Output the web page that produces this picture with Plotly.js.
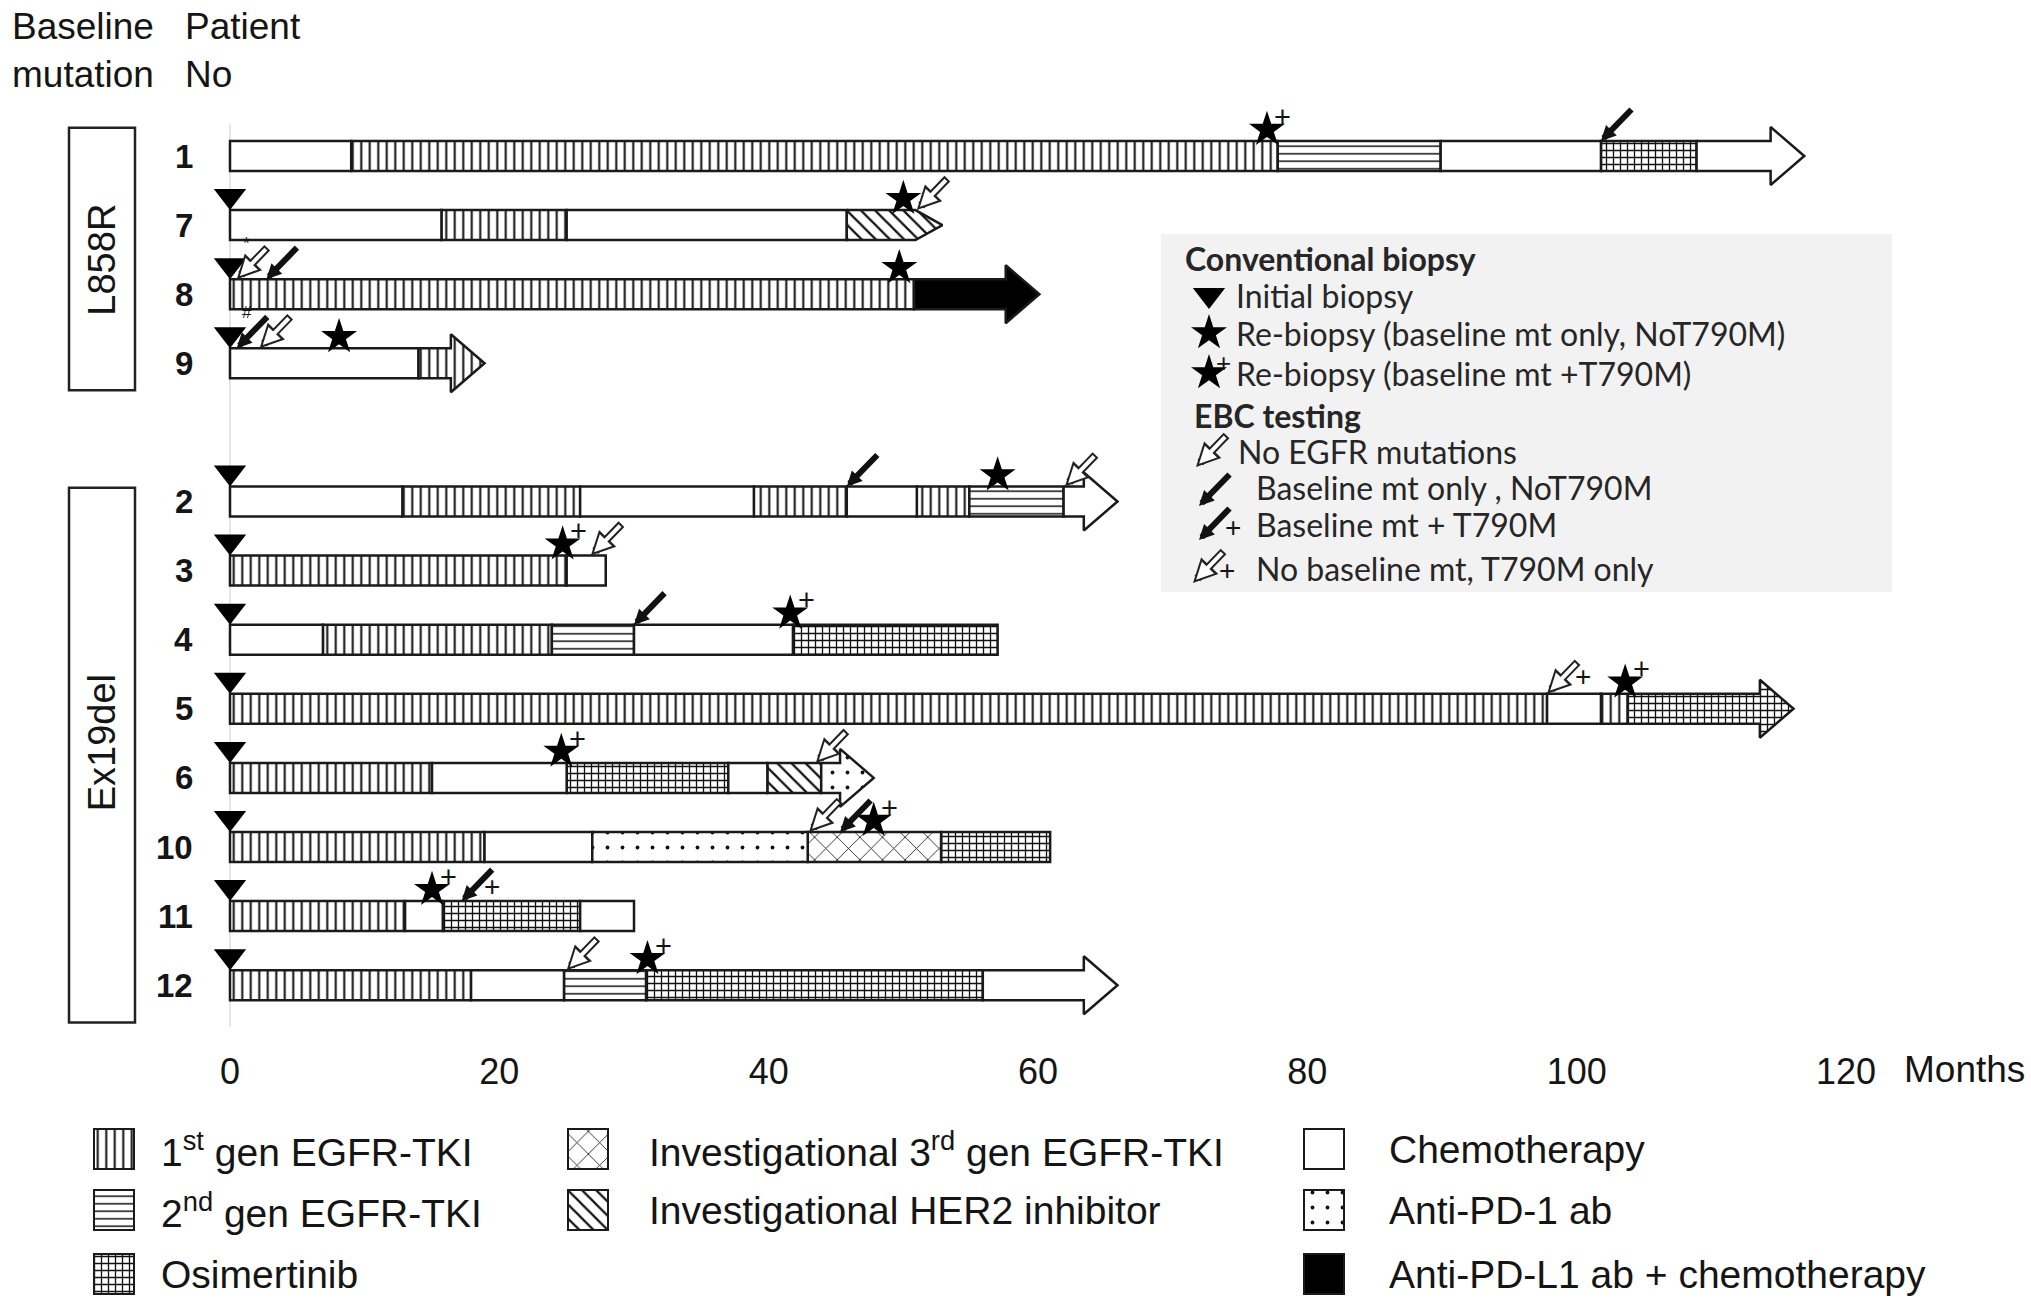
<!DOCTYPE html>
<html><head><meta charset="utf-8">
<script src="https://cdn.plot.ly/plotly-3.0.1.min.js"></script>
<style>html,body{margin:0;padding:0;background:#fff}#chart{width:2031px;height:1303px}</style>
</head><body><div id="chart"></div>
<script>
// ================= DATA =================
const patients = ['1','7','8','9','2','3','4','5','6','10','11','12'];
const baselineMutation = ['L858R','L858R','L858R','L858R','Ex19del','Ex19del','Ex19del','Ex19del','Ex19del','Ex19del','Ex19del','Ex19del'];
// treatment lines per patient (in order) and the month each line ends
const regimens = [
  ['chemo','tki1','tki2','chemo','osi','chemo'],
  ['chemo','tki1','chemo','her2'],
  ['tki1','pdl1'],
  ['chemo','tki1'],
  ['chemo','tki1','chemo','tki1','chemo','tki1','tki2','chemo'],
  ['tki1','chemo'],
  ['chemo','tki1','tki2','chemo','osi'],
  ['tki1','chemo','tki1','osi'],
  ['tki1','chemo','osi','chemo','her2','pd1'],
  ['tki1','chemo','pd1','tki3','osi'],
  ['tki1','chemo','osi','chemo'],
  ['tki1','chemo','tki2','osi','chemo']
];
const regimenEnds = [
  [9, 77.8, 89.9, 101.8, 108.9, 116.9],
  [15.7, 25, 45.8, 52.9],
  [50.8, 60.1],
  [14, 18.9],
  [12.8, 26, 38.9, 45.8, 51, 54.9, 61.9, 65.9],
  [25, 27.9],
  [6.9, 23.9, 30, 41.8, 57],
  [97.8, 101.8, 103.8, 116.1],
  [15, 25, 37, 39.9, 43.9, 47.8],
  [18.9, 26.9, 42.9, 52.8, 60.9],
  [13, 15.8, 26, 30],
  [17.9, 24.8, 30.9, 55.9, 65.9]
];
// how the last line ends: 'arrow' = ongoing, 'point' = pointed end, 'none' = stopped
const lineEnding = ['arrow','point','arrow','arrow','arrow','none','none','arrow','arrow','none','none','arrow'];

// conventional biopsy events (months)
const initialBiopsy = [false,true,true,true,true,true,true,true,true,true,true,true];
const rebiopsyNoT790M = [[],[50],[49.7],[8.1],[57],[],[],[],[],[],[],[]];
const rebiopsyT790M   = [[77],[],[],[],[],[24.7],[41.6],[103.6],[24.6],[47.8],[15],[31]];
// EBC testing events (months)
const ebcNoMutation     = [[],[51],[0.5],[2.2],[62],[26.8],[],[],[43.5],[43],[],[25]];
const ebcBaselineOnly   = [[101.8],[],[2.7],[0.5],[45.8],[],[30],[],[],[45.3],[],[]];
const ebcBaselineT790M  = [[],[],[],[],[],[],[],[],[],[],[17.2],[]];
const ebcT790MOnly      = [[],[],[],[],[],[],[],[97.8],[],[],[],[]];
const ebcFootnotePatient = ['8','9'];
const ebcFootnoteMonth   = [0.5, 0.5];
const ebcFootnoteMark    = ['*','#'];

const monthTicks = [0,20,40,60,80,100,120];
const axisTitle = 'Months';

const treatmentKeys  = ['tki1','tki2','osi','tki3','her2','chemo','pd1','pdl1'];
const treatmentNames = ['1<sup>st</sup> gen EGFR-TKI','2<sup>nd</sup> gen EGFR-TKI','Osimertinib',
  'Investigational 3<sup>rd</sup> gen EGFR-TKI','Investigational HER2 inhibitor',
  'Chemotherapy','Anti-PD-1 ab','Anti-PD-L1 ab + chemotherapy'];

const biopsyLegendTitle = 'Conventional biopsy';
const biopsyLegendLabels = ['Initial biopsy','Re-biopsy (baseline mt only, NoT790M)','Re-biopsy (baseline mt +T790M)'];
const ebcLegendTitle = 'EBC testing';
const ebcLegendLabels = ['No EGFR mutations','Baseline mt only , NoT790M','Baseline mt + T790M','No baseline mt, T790M only'];

// ================= STYLE =================
const W = 2031, H = 1303;
const FONT = '"Liberation Sans", Arial, sans-serif';
const BOX_FONT = 'Lato, "Open Sans", sans-serif';
const INK = '#151515';
const X0_PX = 230, PX_PER_MONTH = 13.467;
const ROW0_PX = 156, ROW_PX = 69.1;
const pxY = p => p / ROW_PX;        // pixel -> row units
const BAR_H = pxY(30);
const HEAD_HALF = pxY(29);
const HEAD_LEN = 2.5, POINT_LEN = 2.0;
const OUTLINE = {color: '#1a1a1a', width: 2.5};
const STAR_SIZE = 27, TRI_SIZE = 28;

const STYLE = {
  tki1:  {color:'#ffffff', pattern:{shape:'|',  size:8.5, solidity:0.24}},
  tki2:  {color:'#ffffff', pattern:{shape:'-',  size:7.5, solidity:0.2}},
  osi:   {color:'#ffffff', pattern:{shape:'+',  size:7,   solidity:0.34}},
  tki3:  {color:'#ffffff', pattern:{shape:'x',  size:16,  solidity:0.1}},
  her2:  {color:'#ffffff', pattern:{shape:'\\', size:10,  solidity:0.22}},
  chemo: {color:'#ffffff', pattern:null},
  pd1:   {color:'#ffffff', pattern:{shape:'.',  size:15,  solidity:0.05}},
  pdl1:  {color:'#000000', pattern:null}
};
function patternFor(k){
  const s = STYLE[k];
  if(!s.pattern) return {shape:''};
  return Object.assign({fgcolor:'#111111', bgcolor:'#ffffff', fillmode:'replace'}, s.pattern);
}

// row positions (a blank row between mutation groups)
const rowPos = [];
{ let gap = 0;
  patients.forEach((p,i)=>{ if(i>0 && baselineMutation[i]!==baselineMutation[i-1]) gap += 1; rowPos.push(i+gap); }); }

// ================= TRACES =================
const traces = [];
const barTraces = {};
treatmentKeys.forEach(k=>{
  barTraces[k] = {type:'bar', orientation:'h', x:[], y:[], base:[], width:BAR_H,
    marker:{color:STYLE[k].color, pattern:patternFor(k), line:OUTLINE},
    showlegend:false, hoverinfo:'skip', xaxis:'x', yaxis:'y'};
  traces.push(barTraces[k]);
});
const endShapes = [];
patients.forEach((p,i)=>{
  const ends = regimenEnds[i], regs = regimens[i], y = rowPos[i];
  ends.forEach((e,j)=>{
    const s = j===0 ? 0 : ends[j-1];
    const k = regs[j];
    const last = j===ends.length-1;
    if(last && lineEnding[i]!=='none'){
      const b = BAR_H/2;
      let xs, ys;
      if(lineEnding[i]==='arrow'){
        const hs = e - HEAD_LEN;
        xs = [s, hs, hs, e, hs, hs, s, s];
        ys = [y-b, y-b, y-HEAD_HALF, y, y+HEAD_HALF, y+b, y+b, y-b];
      } else {
        const ps = e - POINT_LEN;
        xs = [s, ps, e, ps, s, s];
        ys = [y-b, y-b, y, y+b, y+b, y-b];
      }
      endShapes.push({type:'scatter', mode:'lines', x:xs, y:ys, fill:'toself',
        fillcolor:STYLE[k].color, fillpattern:patternFor(k), line:OUTLINE,
        hoverinfo:'skip', showlegend:false, xaxis:'x', yaxis:'y'});
    } else {
      barTraces[k].x.push(e - s); barTraces[k].y.push(y); barTraces[k].base.push(s);
    }
  });
});
traces.push(...endShapes);

// markers
const TRI_OFF = BAR_H/2 + pxY(TRI_SIZE/2);
const STAR_OFF = BAR_H/2 + pxY(STAR_SIZE*0.42);
const triX=[], triY=[], starX=[], starY=[];
const annotations = [];
function plusNear(xref, yref, x, y, dx, dy, size){
  annotations.push({xref, yref, x, y, xshift:dx, yshift:dy, text:'+', showarrow:false,
    font:{family:FONT, size:size, color:INK}});
}
patients.forEach((p,i)=>{
  const y = rowPos[i];
  if(initialBiopsy[i]){ triX.push(0); triY.push(y - TRI_OFF); }
  rebiopsyNoT790M[i].forEach(m=>{ starX.push(m); starY.push(y - STAR_OFF); });
  rebiopsyT790M[i].forEach(m=>{ starX.push(m); starY.push(y - STAR_OFF);
    plusNear('x','y',m,y-STAR_OFF,16,13,29); });
});
traces.push({type:'scatter', mode:'markers', x:triX, y:triY, xaxis:'x', yaxis:'y',
  marker:{symbol:'triangle-down', size:TRI_SIZE, color:'#000'}, hoverinfo:'skip', showlegend:false});
traces.push({type:'scatter', mode:'markers', x:starX, y:starY, xaxis:'x', yaxis:'y',
  marker:{symbol:'star', size:STAR_SIZE, color:'#000', line:{width:0}}, hoverinfo:'skip', showlegend:false});

// EBC arrows (annotations)
function ebcArrow(xref, yref, x, y, filled){
  if(filled){
    annotations.push({xref, yref, x, y, text:'', showarrow:true, ax:32, ay:-33,
      arrowhead:2, arrowsize:0.5, arrowwidth:6, arrowcolor:'#111', standoff:0});
  } else {
    annotations.push({xref, yref, x, y, text:'', showarrow:true, ax:32, ay:-33,
      arrowhead:2, arrowsize:0.6, arrowwidth:8, arrowcolor:'#222', standoff:0});
    annotations.push({xref, yref, x, y, text:'', showarrow:true, ax:32, ay:-33,
      arrowhead:2, arrowsize:0.85, arrowwidth:4, arrowcolor:'#fff', standoff:4.5, startstandoff:2});
  }
}
patients.forEach((p,i)=>{
  const yTop = rowPos[i] - BAR_H/2;
  ebcNoMutation[i].forEach(m=>ebcArrow('x','y',m,yTop,false));
  ebcBaselineOnly[i].forEach(m=>ebcArrow('x','y',m,yTop,true));
  ebcBaselineT790M[i].forEach(m=>{ ebcArrow('x','y',m,yTop,true); plusNear('x','y',m,yTop,30,15,28); });
  ebcT790MOnly[i].forEach(m=>{ ebcArrow('x','y',m,yTop,false); plusNear('x','y',m,yTop,36,17,28); });
});
ebcFootnotePatient.forEach((p,j)=>{
  const i = patients.indexOf(p);
  annotations.push({xref:'x', yref:'y', x:ebcFootnoteMonth[j], y:rowPos[i]-BAR_H/2, xshift:10, yshift:36,
    text:ebcFootnoteMark[j], showarrow:false, font:{family:FONT, size:17, color:INK}});
});

// patient labels & group labels
patients.forEach((p,i)=>{
  annotations.push({xref:'x2', yref:'y', x:195, y:rowPos[i], xanchor:'right', text:'<b>'+p+'</b>',
    showarrow:false, font:{family:FONT, size:33, color:INK}});
});
const shapes = [];
const groups = [...new Set(baselineMutation)];
const groupPad = {L858R:[-0.41, 0.39], Ex19del:[-0.2, 0.54]};
groups.forEach(g=>{
  const rows = rowPos.filter((r,i)=>baselineMutation[i]===g);
  const r0 = Math.min(...rows), r1 = Math.max(...rows);
  shapes.push({type:'rect', xref:'x2', yref:'y', x0:69, x1:135, y0:r0+groupPad[g][0], y1:r1+groupPad[g][1],
    line:{color:'#222', width:2.5}, fillcolor:'rgba(0,0,0,0)'});
  annotations.push({xref:'x2', yref:'y', x:102, y:(r0+r1)/2, text:g, textangle:-90, showarrow:false,
    font:{family:FONT, size:38, color:INK}});
});
// faint line at month 0
shapes.push({type:'line', xref:'x', yref:'y', x0:0, x1:0, y0:rowPos[0]-0.46, y1:rowPos[rowPos.length-1]+0.6,
  line:{color:'#dddddd', width:1.5}, layer:'below'});

// headers
[['Baseline',10,26],['mutation',10,74],['Patient',183,26],['No',183,74]].forEach(t=>{
  annotations.push({xref:'x2', yref:'y2', x:t[1], y:t[2], xanchor:'left', text:t[0], showarrow:false,
    font:{family:FONT, size:37, color:INK}});
});
annotations.push({xref:'x2', yref:'y2', x:1902, y:1069, xanchor:'left', text:axisTitle, showarrow:false,
  font:{family:FONT, size:37, color:INK}});

// ---------- treatment legend (bottom) ----------
const LEG_COL_SW = [94, 568, 1304], LEG_COL_TX = [159, 647, 1387], LEG_ROW_Y = [1149, 1210, 1274];
const legCol = [0,0,0,1,1,2,2,2], legRow = [0,1,2,0,1,0,1,2];
treatmentKeys.forEach((k,i)=>{
  traces.push({type:'bar', orientation:'h', x:[40], base:[LEG_COL_SW[legCol[i]]], y:[LEG_ROW_Y[legRow[i]]], width:40,
    marker:{color:STYLE[k].color, pattern:patternFor(k), line:{color:'#1a1a1a', width:2}},
    xaxis:'x2', yaxis:'y2', hoverinfo:'skip', showlegend:false});
  annotations.push({xref:'x2', yref:'y2', x:LEG_COL_TX[legCol[i]], y:LEG_ROW_Y[legRow[i]], xanchor:'left',
    text:treatmentNames[i], showarrow:false, font:{family:FONT, size:39, color:INK}});
});

// ---------- event legend box (top right) ----------
shapes.push({type:'rect', xref:'x2', yref:'y2', x0:1161, x1:1892, y0:234, y1:592,
  fillcolor:'#f2f2f2', line:{width:0}, layer:'below'});
const boxFont = {family:BOX_FONT, size:32, color:'#262626'};
annotations.push({xref:'x2', yref:'y2', x:1183, y:258, xanchor:'left', text:'<b>'+biopsyLegendTitle+'</b>', showarrow:false, font:boxFont});
annotations.push({xref:'x2', yref:'y2', x:1192, y:415, xanchor:'left', text:'<b>'+ebcLegendTitle+'</b>', showarrow:false, font:boxFont});
const bioY = [295, 333, 373];
biopsyLegendLabels.forEach((t,i)=>{
  annotations.push({xref:'x2', yref:'y2', x:1234, y:bioY[i], xanchor:'left', text:t, showarrow:false, font:boxFont});
});
traces.push({type:'scatter', mode:'markers', x:[1209], y:[bioY[0]], xaxis:'x2', yaxis:'y2',
  marker:{symbol:'triangle-down', size:TRI_SIZE, color:'#000'}, hoverinfo:'skip', showlegend:false});
traces.push({type:'scatter', mode:'markers', x:[1209,1209], y:[bioY[1], bioY[2]], xaxis:'x2', yaxis:'y2',
  marker:{symbol:'star', size:STAR_SIZE, color:'#000'}, hoverinfo:'skip', showlegend:false});
plusNear('x2','y2',1209,bioY[2],14,10,26);
const ebcY = [451, 487, 524, 568], ebcTX = [1236, 1254, 1254, 1254];
const ebcTip = [[1196,467],[1199,506],[1199,540],[1193,583]];
const ebcFilled = [false, true, true, false], ebcPlus = [false, false, true, true];
ebcLegendLabels.forEach((t,i)=>{
  annotations.push({xref:'x2', yref:'y2', x:ebcTX[i], y:ebcY[i], xanchor:'left', text:t, showarrow:false, font:boxFont});
  ebcArrow('x2','y2',ebcTip[i][0], ebcTip[i][1], ebcFilled[i]);
  if(ebcPlus[i]) plusNear('x2','y2',ebcTip[i][0], ebcTip[i][1], 34, 13, 28);
});

// ================= LAYOUT =================
const layout = {
  width:W, height:H, margin:{l:0,r:0,t:0,b:0,pad:0},
  paper_bgcolor:'#ffffff', plot_bgcolor:'rgba(0,0,0,0)',
  showlegend:false, hovermode:false, barmode:'overlay',
  xaxis:{domain:[0,1], range:[-X0_PX/PX_PER_MONTH, (W-X0_PX)/PX_PER_MONTH], anchor:'free', position:1-1047/H,
    tickmode:'array', tickvals:monthTicks, ticktext:monthTicks.map(String), ticks:'', showgrid:false,
    zeroline:false, showline:false, automargin:false, fixedrange:true,
    tickfont:{family:FONT, size:36, color:INK}},
  yaxis:{domain:[0,1], range:[(H-ROW0_PX)/ROW_PX, -ROW0_PX/ROW_PX], showticklabels:false, showgrid:false,
    zeroline:false, showline:false, ticks:'', automargin:false, fixedrange:true},
  xaxis2:{overlaying:'x', anchor:'y2', range:[0,W], visible:false, fixedrange:true},
  yaxis2:{overlaying:'y', anchor:'x2', range:[H,0], visible:false, fixedrange:true},
  shapes, annotations
};
Plotly.newPlot('chart', traces, layout, {staticPlot:true, displayModeBar:false});
</script>
</body></html>
